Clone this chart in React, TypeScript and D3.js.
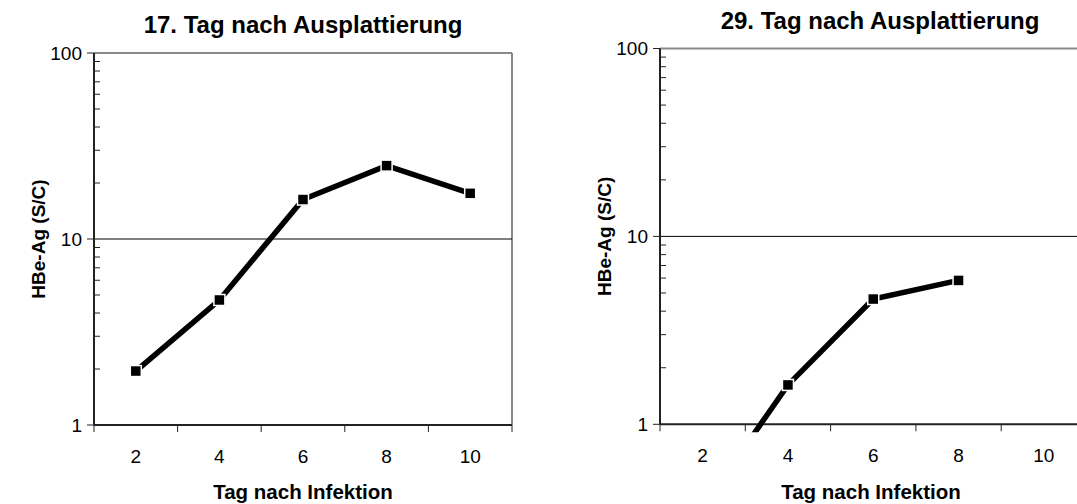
import React from "react";
import * as d3 from "d3";

const categories = ["2", "4", "6", "8", "10"];
const series17 = [1.95, 4.7, 16.3, 24.8, 17.6];
const series29: (number | null)[] = [0.36, 1.62, 4.64, 5.83, null];
const yTicks = [1, 10, 100];
const titles = ["17. Tag nach Ausplattierung", "29. Tag nach Ausplattierung"];
const xTitle = "Tag nach Infektion";
const yTitle = "HBe-Ag (S/C)";

const FONT = "'Liberation Sans', Arial, sans-serif";

type PanelProps = {
  x0: number;
  x1: number;
  yTop: number;
  yBot: number;
  values: (number | null)[];
  title: string;
  titleX: number;
  titleY: number;
  yTitleX: number;
  xTitleX: number;
  clipId: string;
};

function Panel({ x0, x1, yTop, yBot, values, title, titleX, titleY, yTitleX, xTitleX, clipId }: PanelProps) {
  const x = d3.scaleBand<string>().domain(categories).range([x0, x1]);
  const y = d3.scaleLog().domain([1, 100]).range([yBot, yTop]);
  const cx = (c: string) => (x(c) as number) + x.bandwidth() / 2;
  const pts = categories
    .map((c, i) => ({ c, v: values[i] }))
    .filter((d) => d.v != null) as { c: string; v: number }[];
  const line = d3
    .line<{ c: string; v: number }>()
    .x((d) => cx(d.c))
    .y((d) => y(d.v));
  const minor: number[] = [];
  for (const dec of [1, 10]) for (let m = 2; m <= 9; m++) minor.push(dec * m);
  const boundaries = categories.map((c) => x(c) as number).concat([x1]);
  const midY = (yTop + yBot) / 2;
  return (
    <g>
      <defs>
        <clipPath id={clipId}>
          <rect x={x0} y={yTop} width={x1 - x0} height={yBot - yTop + 8} />
        </clipPath>
      </defs>
      <line x1={x0} x2={x1} y1={yTop} y2={yTop} stroke="#888" strokeWidth={2} />
      <line x1={x1} x2={x1} y1={yTop} y2={yBot} stroke="#888" strokeWidth={2} />
      <line x1={x0} x2={x1} y1={y(10)} y2={y(10)} stroke="#000" strokeWidth={1} />
      <line x1={x0} x2={x0} y1={yTop} y2={yBot} stroke="#222" strokeWidth={2} />
      {yTicks.map((t) => (
        <g key={t}>
          <line x1={x0 - 7} x2={x0} y1={y(t)} y2={y(t)} stroke="#222" strokeWidth={1} />
          <text
            x={x0 - 12}
            y={y(t)}
            dy="0.36em"
            textAnchor="end"
            fontFamily={FONT}
            fontSize={19}
            fill="#000"
          >
            {t}
          </text>
        </g>
      ))}
      {minor.map((m) => (
        <line key={m} x1={x0} x2={x0 + 6} y1={y(m)} y2={y(m)} stroke="#222" strokeWidth={1} />
      ))}
      <line x1={x0} x2={x1} y1={yBot} y2={yBot} stroke="#222" strokeWidth={2} />
      {boundaries.map((b, i) => (
        <line key={i} x1={b} x2={b} y1={yBot} y2={yBot + 7} stroke="#222" strokeWidth={1} />
      ))}
      {categories.map((c) => (
        <text
          key={c}
          x={cx(c)}
          y={yBot + 38}
          textAnchor="middle"
          fontFamily={FONT}
          fontSize={19}
          fill="#000"
        >
          {c}
        </text>
      ))}
      <g clipPath={`url(#${clipId})`}>
        <path d={line(pts) || ""} fill="none" stroke="#000" strokeWidth={5.5} strokeLinejoin="miter" />
      </g>
      {pts
        .filter((d) => d.v >= 1)
        .map((d) => (
          <rect
            key={d.c}
            x={cx(d.c) - 5.5}
            y={y(d.v) - 5.5}
            width={11}
            height={11}
            fill="#000"
            stroke="#fff"
            strokeWidth={1.5}
          />
        ))}
      <text
        x={titleX}
        y={titleY}
        textAnchor="middle"
        fontFamily={FONT}
        fontWeight="bold"
        fontSize={24}
        fill="#000"
      >
        {title}
      </text>
      <text
        x={xTitleX}
        y={499}
        textAnchor="middle"
        fontFamily={FONT}
        fontWeight="bold"
        fontSize={20.5}
        fill="#000"
      >
        {xTitle}
      </text>
      <text
        transform={`translate(${yTitleX},${midY}) rotate(-90)`}
        textAnchor="middle"
        fontFamily={FONT}
        fontWeight="bold"
        fontSize={19}
        fill="#000"
      >
        {yTitle}
      </text>
    </g>
  );
}

export default function App() {
  return (
    <svg
      width={1077}
      height={504}
      style={{ position: "absolute", left: 0, top: 0, background: "#fff", overflow: "hidden" }}
    >
      <rect x={0} y={0} width={1077} height={504} fill="#fff" />
      <Panel
        x0={94}
        x1={512}
        yTop={53}
        yBot={425}
        values={series17}
        title={titles[0]}
        titleX={303}
        titleY={33}
        yTitleX={45}
        xTitleX={303}
        clipId="clipA"
      />
      <Panel
        x0={660}
        x1={1086.5}
        yTop={48.5}
        yBot={424.3}
        values={series29}
        title={titles[1]}
        titleX={880}
        titleY={29}
        yTitleX={611}
        xTitleX={871}
        clipId="clipB"
      />
    </svg>
  );
}
